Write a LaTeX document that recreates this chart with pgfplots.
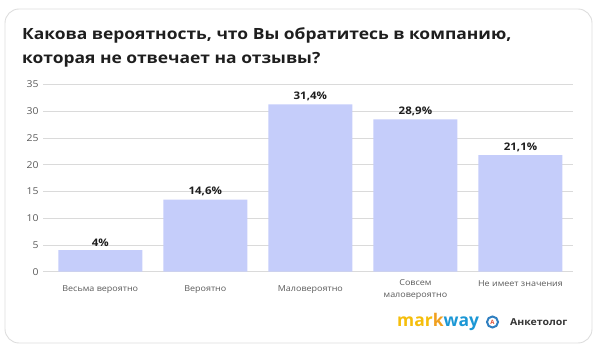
\documentclass[border=0pt]{standalone}
\usepackage{fontspec}
\setmainfont{Open Sans}
\newfontfamily\titlefont[FakeStretch=1.13]{Open Sans}
\newfontfamily\wide[FakeStretch=1.1]{Open Sans}
\usepackage{pgfplots}
\pgfplotsset{compat=1.18}
\definecolor{barc}{HTML}{C5CDFA}
\definecolor{gridc}{HTML}{DADADA}
\definecolor{tickc}{HTML}{5A5A5A}
\definecolor{cardc}{HTML}{DDDDDD}
\definecolor{titlec}{HTML}{1E1E1E}
\definecolor{myyellow}{HTML}{F5BE0B}
\definecolor{myorange}{HTML}{F0A020}
\definecolor{myblue}{HTML}{1B97D5}
\definecolor{iconblue}{HTML}{2F7FC0}
\definecolor{iconred}{HTML}{E0553A}
\begin{document}
\begin{tikzpicture}
\path[use as bounding box] (0,0) rectangle (600bp,353bp);
\draw[cardc, line width=0.9bp, rounded corners=14bp] (5bp,10bp) rectangle (592bp,344bp);
\node[anchor=base west, inner sep=0, text=titlec, font=\titlefont\bfseries\fontsize{15.5}{18}\selectfont] at (22bp,313bp) {Какова вероятность, что Вы обратитесь в компанию,};
\node[anchor=base west, inner sep=0, text=titlec, font=\titlefont\bfseries\fontsize{15.5}{18}\selectfont] at (22bp,289.5bp) {которая не отвечает на отзывы?};
\begin{axis}[
  at={(43bp,81.3bp)}, anchor=south west,
  scale only axis, width=530bp, height=187.1bp,
  xmin=-0.545, xmax=4.5, ymin=0, ymax=35,
  ytick={0,5,...,35},
  xtick={0,1,2,3,4},
  xticklabels={Весьма вероятно, Вероятно, Маловероятно, {Совсем\\маловероятно}, {Не имеет значения\\\mbox{}}},
  xticklabel style={align=center, text=tickc, font=\wide\fontsize{8.2}{12}\selectfont, anchor=center, yshift=-18.3bp},
  yticklabel style={text=tickc, font=\wide\fontsize{9.5}{11}\selectfont, xshift=-1bp},
  /pgf/number format/assume math mode=true,
  axis x line*=bottom, axis y line*=left,
  y axis line style={draw=none},
  x axis line style={gridc, line width=0.8bp},
  major tick length=0pt,
  ymajorgrids, grid style={gridc, line width=0.8bp},
  clip=false,
]
\addplot[ybar, fill=barc, draw=none, bar width=84bp,
  nodes near coords, point meta=explicit symbolic,
  nodes near coords style={font=\wide\bfseries\fontsize{10.5}{12}\selectfont, text=titlec, anchor=south, inner sep=2bp, yshift=1bp}]
  coordinates {(0,4.05) [4\%] (1,13.5) [14,6\%] (2,31.3) [31,4\%] (3,28.5) [28,9\%] (4,21.8) [21,1\%]};
\end{axis}
\node[anchor=base west, inner sep=0, font=\bfseries\fontsize{17.5}{18}\selectfont] at (397bp,27bp) {\color{myyellow}mar\color{myorange}k\color{myblue}way};
\draw[iconblue, line width=2bp] (492.5bp,31bp) circle (5.5bp);
\node[text=iconred, font=\bfseries\fontsize{6}{7}\selectfont, inner sep=0] at (492.5bp,31bp) {А};
\node[anchor=base west, inner sep=0, text=titlec!90, font=\wide\bfseries\fontsize{9.6}{12}\selectfont] at (510bp,27.5bp) {Анкетолог};
\end{tikzpicture}
\end{document}
